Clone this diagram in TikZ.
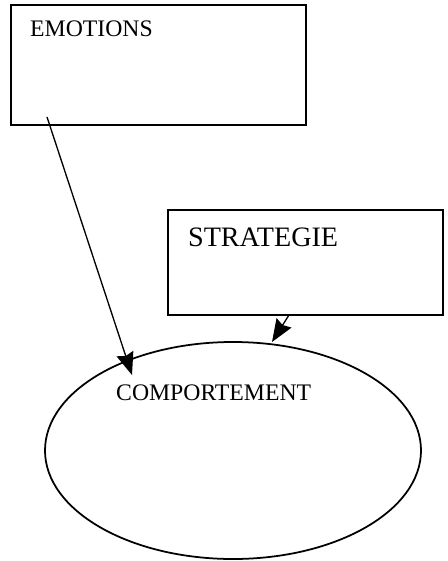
\documentclass[tikz,border=0pt]{standalone}
\usepackage{fontspec}
\setmainfont{Liberation Serif}
\usepackage{tikz}
\usetikzlibrary{shapes.geometric,arrows.meta}

\tikzset{
  box/.style={draw,line width=2pt,inner sep=0pt,outer sep=0pt},
  label/.style={anchor=base west,inner sep=0pt},
  link/.style={line width=1.5pt,-{Stealth[length=9mm,width=7mm,inset=1mm]}}
}

\begin{document}
\begin{tikzpicture}[x=0.4mm,y=-0.4mm]
    \useasboundingbox (0,0) rectangle (447,561);
    % Boxes
    \node[box,minimum width=118mm,minimum height=48mm] (emotions) at (158.5,65) {};
    \node[label,font=\fontsize{27}{30}\selectfont] (emotionstext) at (30,37) {EMOTIONS};
    \node[box,minimum width=110mm,minimum height=42mm] (strategie) at (305.5,262.5) {};
    \node[label,font=\fontsize{32}{36}\selectfont] (strategietext) at (188,246) {STRATEGIE};
    % Ellipse
    \node[box,ellipse,minimum width=150.4mm,minimum height=86.8mm] (comportement) at (233,450.5) {};
    \node[label,font=\fontsize{27}{30}\selectfont] (comportementtext) at (116,400) {COMPORTEMENT};
    % Arrow ends
    \coordinate (emoout) at (47,117);
    \coordinate (emoin) at (132,375);
    \coordinate (strout) at (289,315);
    \coordinate (strin) at (272,342);
    % Arrows
    \draw[link] (emoout) -- (emoin);
    \draw[link] (strout) -- (strin);
\end{tikzpicture}
\end{document}
